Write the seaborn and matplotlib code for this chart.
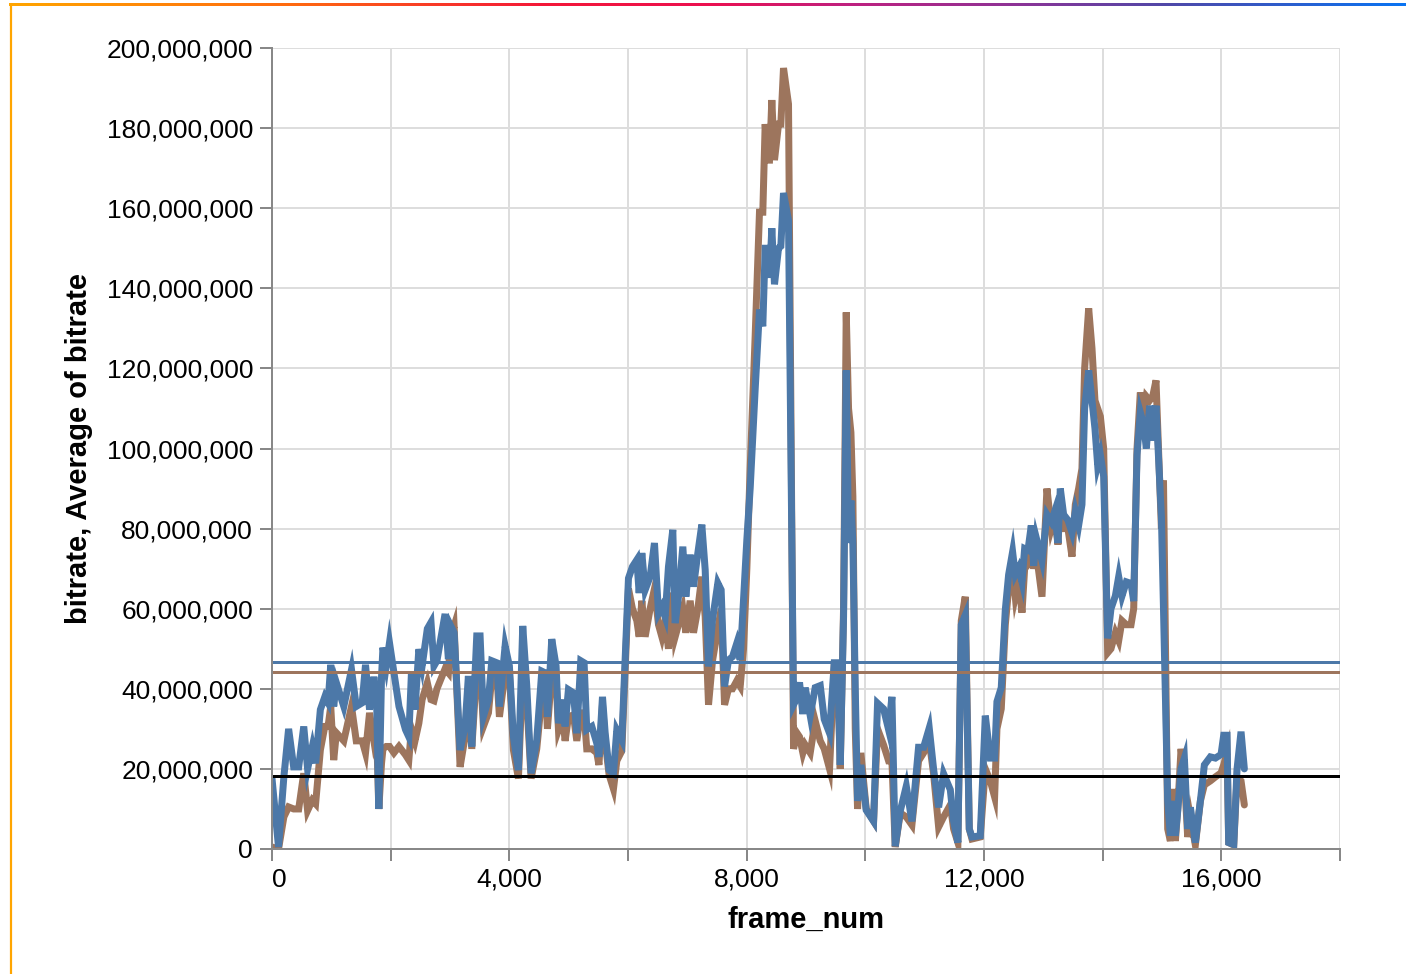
import numpy as np
import pandas as pd
import matplotlib
matplotlib.use("Agg")
import matplotlib.pyplot as plt
from matplotlib.colors import LinearSegmentedColormap
from matplotlib.lines import Line2D
from matplotlib.ticker import FuncFormatter
import seaborn as sns

# ---------------- data (bitrate in millions) ----------------
frame_num = [
    0, 110, 200, 280, 365, 450, 535, 600, 680, 735, 815, 890, 945, 990, 1040, 1085,
    1210, 1340, 1420, 1520, 1576, 1644, 1717, 1762, 1800, 1846, 1870, 1925, 1980, 2055,
    2140, 2250, 2306, 2350, 2410, 2475, 2530, 2618, 2680, 2730, 2780, 2917, 2973, 3013,
    3069, 3170, 3254, 3310, 3367, 3451, 3507, 3563, 3648, 3704, 3788, 3833, 3929, 4001,
    4069, 4153, 4226, 4294, 4367, 4462, 4547, 4603, 4642, 4715, 4788, 4828, 4900, 4940,
    4996, 5080, 5137, 5204, 5260, 5305, 5390, 5474, 5510, 5570, 5615, 5682, 5755, 5811,
    5896, 6008, 6075, 6149, 6188, 6233, 6289, 6373, 6446, 6514, 6570, 6626, 6682, 6755,
    6795, 6851, 6924, 6975, 7048, 7104, 7177, 7244, 7301, 7357, 7424, 7514, 7570, 7627,
    7694, 7761, 7834, 7891, 7947, 8003, 8059, 8143, 8216, 8272, 8312, 8357, 8385, 8424,
    8469, 8537, 8576, 8621, 8705, 8790, 8846, 8891, 8947, 8987, 9071, 9155, 9240, 9307,
    9397, 9476, 9532, 9577, 9633, 9678, 9717, 9757, 9790, 9830, 9869, 9925, 10015, 10139,
    10206, 10307, 10392, 10448, 10504, 10589, 10690, 10785, 10897, 10982, 11077, 11150,
    11235, 11319, 11432, 11488, 11560, 11617, 11684, 11752, 11797, 11937, 12022, 12106,
    12179, 12218, 12291, 12359, 12415, 12482, 12527, 12584, 12640, 12685, 12741, 12797,
    12837, 12881, 12977, 13061, 13134, 13191, 13247, 13286, 13342, 13415, 13483, 13539,
    13595, 13651, 13696, 13764, 13820, 13870, 13916, 13961, 14017, 14084, 14140, 14214,
    14270, 14326, 14399, 14478, 14523, 14579, 14635, 14691, 14736, 14792, 14843, 14899,
    14990, 15025, 15096, 15141, 15186, 15225, 15265, 15321, 15377, 15433, 15478, 15562,
    15647, 15714, 15815, 15900, 15995, 16040, 16096, 16124, 16209, 16265, 16332, 16388,
]

bitrate_blue = [
    17.6, 0.5, 18, 30, 20.5, 20.5, 30.6, 20, 25.6, 21.4, 34.8, 38, 36.5, 46, 35.6, 41.5,
    35.6, 44.8, 35.6, 36.5, 46, 34.8, 43, 38, 10, 43, 50.3, 45.7, 51.5, 44,
    35.6, 29.8, 28, 44, 34.8, 49.9, 45.7, 55, 56.6, 45.7, 47, 58.7, 47.4, 55.7,
    54, 24.7, 30.6, 43.2, 25.6, 53.2, 53.2, 33.1, 37.3, 47, 46.5, 35.6, 50.7, 45.7,
    28, 19.7, 55.7, 40.7, 18.9, 27.2, 44.4, 44, 33, 52.4, 45.7, 31.4, 37.3, 30.6,
    39.8, 39, 28.9, 47, 46.5, 29.8, 30.6, 26.4, 23, 38, 29, 19.7, 18.9, 29.7,
    27.2, 67.6, 70.5, 72.2, 63.9, 73.9, 64.7, 68, 76.4, 58.9, 60.5, 58, 70.5, 79.7,
    56.4, 63, 75.5, 63, 73.5, 65.5, 73.9, 81, 69.7, 45.6, 57.2, 66.4, 64.7, 40.6,
    47.2, 48, 51.4, 47.2, 62.2, 77.2, 90, 114.7, 134.7, 130.5, 150, 150, 142.6, 155,
    141, 150, 150.5, 163.8, 157, 36, 37.7, 41.6, 33.7, 40.3, 33.3, 40.3, 40.8, 32.4,
    28.9, 46.5, 46.5, 21, 58, 119.5, 76.4, 87, 76.4, 40, 12, 21, 9.7, 6.9,
    36.4, 35, 29.8, 38, 0.7, 9.5, 15.7, 6.9, 25.4, 25.4, 30.2, 20,
    10.4, 18.8, 14.8, 6.9, 1.6, 56, 58.4, 5, 3, 3.3, 33.3, 22.7,
    22.7, 36.8, 40.3, 59.7, 68.5, 74.2, 68.5, 70.2, 66.7, 75, 74.6, 80.8,
    70.7, 77.7, 72, 83.5, 81.7, 84.3, 76.4, 90, 83.5, 82.1, 79, 84.3,
    80.8, 86, 110, 119.5, 112, 105, 95.8, 98.4, 93, 52.6, 60, 63.2,
    68, 63.2, 66.7, 66.3, 61.9, 98.4, 109, 106, 100, 110.7, 102, 110.7,
    83, 60, 12, 3.3, 12, 3.3, 9.5, 20, 22.7, 5, 10.4, 1.6,
    12, 21, 23, 22.7, 23.6, 28.4, 28.4, 1.6, 1.1, 20, 29.3, 20,
]

bitrate_brown = [
    0.5, 0, 8, 10.5, 10, 10, 18.9, 9.6, 12.2, 11.3, 24.7, 30.6, 30.6, 35.6, 22.2, 29,
    27, 35.6, 27, 27, 24, 34, 27, 30, 10, 21.4, 25, 25.6, 25.6, 24,
    25.6, 23.5, 22.2, 30, 27, 31.4, 37.3, 41.5, 37.3, 37, 40, 45, 44, 53,
    55.7, 20.5, 28, 40, 25, 45, 46, 30.6, 34, 43, 44, 33, 44, 44,
    24.7, 17.6, 45, 37, 17.6, 25, 38, 42, 30, 44, 42, 29.8, 33, 27,
    33, 33.5, 27, 34, 34, 25, 25, 24, 21, 36, 27, 18.5, 15, 22,
    24.5, 65, 60, 57, 53, 62, 53, 60, 65, 56, 53, 57, 50, 64,
    53, 56, 60, 54, 62, 54, 60, 68, 58, 36, 47, 55, 60, 36,
    40, 40, 42, 40.6, 50, 70, 95, 128, 159, 159, 181, 172, 172, 187,
    172, 181, 181, 195, 186, 25, 29, 28, 24, 26, 24, 32, 27, 25,
    20, 46, 46, 20, 60, 134, 110, 104, 88, 30, 10, 24, 10, 7,
    30, 26, 22, 22, 0.5, 9, 8, 6, 22, 24, 27, 18.8,
    5.5, 8, 11, 5, 1.6, 57, 63, 5, 2.5, 3, 20, 17,
    13, 30, 35, 56, 65, 70, 63, 67, 59, 70, 71, 75,
    70, 74, 63, 90, 80, 83, 76, 88, 80, 80, 73, 86,
    90, 95, 120, 135, 125, 112, 110, 108, 100, 49, 50, 54,
    52, 57, 56, 56, 60, 100, 114, 108, 113, 112, 113, 117,
    80, 92, 5, 2, 15, 2, 10, 25, 18, 3, 8, 1,
    12, 16, 17, 18, 19, 21, 24, 1.6, 1, 18, 17, 11,
]

series_names = ["brown", "blue"]
series_colors = {"brown": "#9D755D", "blue": "#4C78A8"}
mean_blue = 46.7
mean_brown = 44.2
threshold = 18.2

x_tick_values = list(range(0, 18001, 2000))
y_tick_values = list(range(0, 200000001, 20000000))

# ---------------- build table ----------------
M = 1_000_000
df = pd.concat([
    pd.DataFrame({"frame_num": frame_num,
                  "bitrate": np.array(bitrate_brown) * M,
                  "series": "brown"}),
    pd.DataFrame({"frame_num": frame_num,
                  "bitrate": np.array(bitrate_blue) * M,
                  "series": "blue"}),
], ignore_index=True)

# ---------------- figure ----------------
sns.set_theme(style="white")
plt.rcParams["font.family"] = ["Liberation Sans", "DejaVu Sans"]

W, H = 1406, 974
fig = plt.figure(figsize=(W / 100, H / 100), dpi=100)
fig.patch.set_facecolor("white")
ax = fig.add_axes([272 / W, 1 - 849 / H, (1340 - 272) / W, (849 - 48) / H])

px = 72 / 100  # points per pixel
sns.lineplot(data=df, x="frame_num", y="bitrate", hue="series",
             hue_order=series_names, palette=series_colors,
             estimator=None, sort=False, legend=False,
             linewidth=7 * px, ax=ax, zorder=3)
for ln in ax.get_lines():
    ln.set_solid_joinstyle("miter")

ax.axhline(mean_blue * M, color=series_colors["blue"], lw=3 * px, zorder=5)
ax.axhline(mean_brown * M, color=series_colors["brown"], lw=3 * px, zorder=5)
ax.axhline(threshold * M, color="black", lw=3 * px, zorder=5)

ax.set_xlim(0, 18000)
ax.set_ylim(0, 200000000)
ax.set_xticks(x_tick_values)
ax.set_yticks(y_tick_values)
ax.set_xticklabels([f"{v:,}" if v % 4000 == 0 and v < 18000 else "" for v in x_tick_values])
ax.yaxis.set_major_formatter(FuncFormatter(lambda v, p: f"{int(v):,}"))

ax.grid(True, color="#dddddd", lw=2 * px, zorder=0)
ax.set_axisbelow(True)
for s in ["top", "right"]:
    ax.spines[s].set_visible(False)
for s in ["left", "bottom"]:
    ax.spines[s].set_color("#888888")
    ax.spines[s].set_linewidth(2 * px)
    ax.spines[s].set_zorder(6)

ax.tick_params(axis="both", which="major", length=12 * px, width=2 * px,
               color="#888888", labelsize=19, labelcolor="black", pad=5,
               left=True, bottom=True)
ax.get_xticklabels()[0].set_horizontalalignment("left")

ax.set_xlabel("frame_num", fontsize=21, fontweight="bold", labelpad=10, color="black")
ax.set_ylabel("bitrate, Average of bitrate", fontsize=21, fontweight="bold",
              labelpad=10, color="black")

# ---------------- window frame decoration ----------------
cmap = LinearSegmentedColormap.from_list("frame", [
    (0.0, "#FFA500"), (0.2, "#FF6A10"), (0.38, "#F41838"), (0.5, "#EC1050"),
    (0.6, "#C0207F"), (0.72, "#8E3396"), (0.83, "#5048A8"), (1.0, "#0A74F2")])
gax = fig.add_axes([9 / W, 1 - 6 / H, (W - 9) / W, 3 / H])
gax.imshow(np.linspace(0, 1, 512)[None, :], aspect="auto", cmap=cmap,
           extent=[0, 1, 0, 1])
gax.set_axis_off()
fig.add_artist(Line2D([10.5 / W, 10.5 / W], [0, 1 - 4 / H], color="#FFA500",
                      lw=2.2 * px, transform=fig.transFigure))

fig.savefig("out.png", dpi=100, facecolor="white")
